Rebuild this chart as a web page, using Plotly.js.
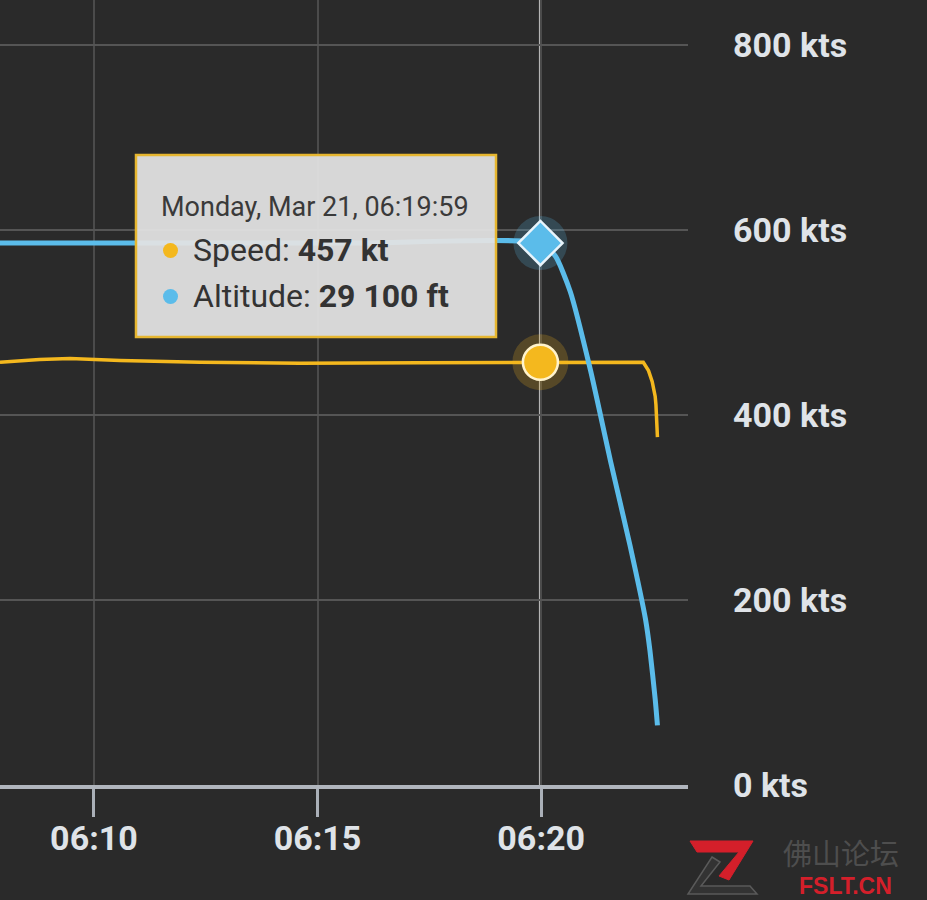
<!DOCTYPE html>
<html>
<head>
<meta charset="utf-8">
<script src="https://cdn.plot.ly/plotly-3.0.1.min.js"></script>
<style>
  html, body { margin: 0; padding: 0; background: #2a2a2a; }
  #chart { width: 927px; height: 900px; }
</style>
</head>
<body>
<div id="chart"></div>
<script>
// ---- data ----
const speedTimes = ['2022-03-21 06:07:54','2022-03-21 06:08:47','2022-03-21 06:09:28','2022-03-21 06:10:35',
  '2022-03-21 06:12:22','2022-03-21 06:14:36','2022-03-21 06:17:17','2022-03-21 06:19:59','2022-03-21 06:21:19',
  '2022-03-21 06:22:17','2022-03-21 06:22:24','2022-03-21 06:22:29','2022-03-21 06:22:31','2022-03-21 06:22:33',
  '2022-03-21 06:22:34','2022-03-21 06:22:36'];
const speedKts = [457, 460, 461, 459, 457, 456, 456.5, 457, 457, 457, 448, 436, 428, 420, 411, 376];

const altTimes = ['2022-03-21 06:07:54','2022-03-21 06:12:00','2022-03-21 06:16:00','2022-03-21 06:19:59',
  '2022-03-21 06:20:19','2022-03-21 06:20:39','2022-03-21 06:21:06','2022-03-21 06:21:33','2022-03-21 06:21:59',
  '2022-03-21 06:22:20','2022-03-21 06:22:26','2022-03-21 06:22:33','2022-03-21 06:22:36'];
const altFt = [29100, 29100, 29100, 29100, 28400, 26500, 22300, 17400, 12900, 8900, 7200, 4600, 3200];

const hoverTime = '2022-03-21 06:19:59';
const hoverSpeed = 457;
const hoverAlt = 29100;

const xTickVals = ['2022-03-21 06:10:00','2022-03-21 06:15:00','2022-03-21 06:20:00'];
const xTickText = ['06:10','06:15','06:20'];
const yTickVals = [0, 200, 400, 600, 800];
const yTickText = ['0 kts','200 kts','400 kts','600 kts','800 kts'];

const tooltipHeader = 'Monday, Mar 21, 06:19:59';
const tooltipSpeed = 'Speed: <b>457 kt</b>';
const tooltipAlt = 'Altitude: <b>29 100 ft</b>';

// ---- colours ----
const BLUE = '#5bbcea';
const GOLD = '#f4b81e';

// plot area geometry helpers (plot area = 688 x 785 px at origin)
const PW = 688, PH = 785;
const px = x => x / PW;
const py = y => 1 - y / PH;

const traces = [
  { x: altTimes, y: altFt, yaxis: 'y2', type: 'scatter', mode: 'lines',
    line: { color: BLUE, width: 5, shape: 'spline', smoothing: 0.6 } },
  { x: speedTimes, y: speedKts, type: 'scatter', mode: 'lines',
    line: { color: GOLD, width: 3.5 } },
  { x: [hoverTime], y: [hoverAlt], yaxis: 'y2', type: 'scatter', mode: 'markers',
    marker: { symbol: 'circle', size: 54, color: 'rgba(91,188,234,0.22)' } },
  { x: [hoverTime], y: [hoverAlt], yaxis: 'y2', type: 'scatter', mode: 'markers',
    marker: { symbol: 'diamond', size: 34, color: BLUE, line: { color: '#e8f4fb', width: 2.5 } } },
  { x: [hoverTime], y: [hoverSpeed], type: 'scatter', mode: 'markers',
    marker: { symbol: 'circle', size: 56, color: 'rgba(244,184,30,0.22)' } },
  { x: [hoverTime], y: [hoverSpeed], type: 'scatter', mode: 'markers',
    marker: { symbol: 'circle', size: 35, color: GOLD, line: { color: '#fff3cc', width: 2.5 } } }
];

const layout = {
  width: 927, height: 900,
  margin: { l: 0, r: 239, t: 0, b: 115, pad: 0 },
  paper_bgcolor: '#2a2a2a', plot_bgcolor: '#2a2a2a',
  showlegend: false, hovermode: false,
  font: { family: 'Roboto, sans-serif', color: '#dde1e6' },
  xaxis: {
    type: 'date',
    range: ['2022-03-21 06:07:54', '2022-03-21 06:23:17'],
    tickvals: xTickVals, ticktext: xTickText,
    showgrid: true, gridcolor: '#4b4b4b', gridwidth: 2,
    ticks: 'outside', ticklen: 28, tickwidth: 3, tickcolor: '#aab0b8',
    ticklabelstandoff: -8,
    showline: true, linecolor: '#b0b5bd', linewidth: 4,
    zeroline: false,
    tickfont: { family: 'Roboto, sans-serif', size: 34, color: '#dfe3e8', weight: 'bold' }
  },
  yaxis: {
    side: 'right',
    range: [0, 848.6],
    tickvals: yTickVals, ticktext: yTickText,
    showgrid: true, gridcolor: '#555555', gridwidth: 2,
    showline: false, zeroline: false, ticks: '',
    ticklabelstandoff: 44,
    tickfont: { family: 'Roboto, sans-serif', size: 34, color: '#dfe3e8', weight: 'bold' }
  },
  yaxis2: {
    overlaying: 'y', side: 'right', range: [0, 42150], visible: false
  },
  shapes: [
    // crosshair
    { type: 'line', xref: 'x', yref: 'paper', x0: hoverTime, x1: hoverTime, y0: 0, y1: 1,
      line: { color: '#b5b5b5', width: 3 }, layer: 'below' },
    // tooltip box
    { type: 'rect', xref: 'paper', yref: 'paper', x0: px(136), x1: px(496), y0: py(337), y1: py(155),
      fillcolor: 'rgba(226,226,226,0.94)', line: { color: '#e6b630', width: 2.5 }, layer: 'above' },
    // tooltip series dots
    { type: 'circle', xref: 'paper', yref: 'paper', x0: px(163), x1: px(178), y0: py(258), y1: py(243),
      fillcolor: GOLD, line: { width: 0 }, layer: 'above' },
    { type: 'circle', xref: 'paper', yref: 'paper', x0: px(163), x1: px(178), y0: py(304), y1: py(289),
      fillcolor: BLUE, line: { width: 0 }, layer: 'above' },
    // watermark logo: red upper stroke
    { type: 'path', xref: 'paper', yref: 'paper', layer: 'above',
      path: `M ${px(690)},${py(841)} L ${px(753)},${py(841)} L ${px(729)},${py(880)} L ${px(719)},${py(876)} L ${px(739)},${py(852)} L ${px(697)},${py(852)} Z`,
      fillcolor: '#d41f2a', line: { color: '#d41f2a', width: 1 } },
    // watermark logo: dark lower stroke
    { type: 'path', xref: 'paper', yref: 'paper', layer: 'above',
      path: `M ${px(712)},${py(857)} L ${px(720)},${py(862)} L ${px(701)},${py(886)} L ${px(750)},${py(886)} L ${px(757)},${py(894)} L ${px(688)},${py(894)} Z`,
      fillcolor: '#333333', line: { color: '#5a5a5a', width: 1.5 } }
  ],
  annotations: [
    { xref: 'paper', yref: 'paper', x: px(159), y: py(207), xanchor: 'left', yanchor: 'middle',
      text: tooltipHeader, showarrow: false,
      font: { family: 'Roboto, sans-serif', size: 27, color: '#3a3a3a' } },
    { xref: 'paper', yref: 'paper', x: px(191), y: py(250), xanchor: 'left', yanchor: 'middle',
      text: tooltipSpeed, showarrow: false,
      font: { family: 'Roboto, sans-serif', size: 32, color: '#333333' } },
    { xref: 'paper', yref: 'paper', x: px(191), y: py(296), xanchor: 'left', yanchor: 'middle',
      text: tooltipAlt, showarrow: false,
      font: { family: 'Roboto, sans-serif', size: 32, color: '#333333' } },
    // watermark text
    { xref: 'paper', yref: 'paper', x: px(841), y: py(852), xanchor: 'center', yanchor: 'middle',
      text: '佛山论坛', showarrow: false, borderpad: 0,
      font: { family: '"Noto Sans CJK SC", sans-serif', size: 29, color: '#4e4e4e' } },
    { xref: 'paper', yref: 'paper', x: px(845), y: py(886), xanchor: 'center', yanchor: 'middle',
      text: '<b>FSLT.CN</b>', showarrow: false, borderpad: 0,
      font: { family: 'Arial, "Liberation Sans", sans-serif', size: 23, color: '#d41f2a' } }
  ]
};

Plotly.newPlot('chart', traces, layout, { staticPlot: true, displayModeBar: false });
</script>
</body>
</html>
